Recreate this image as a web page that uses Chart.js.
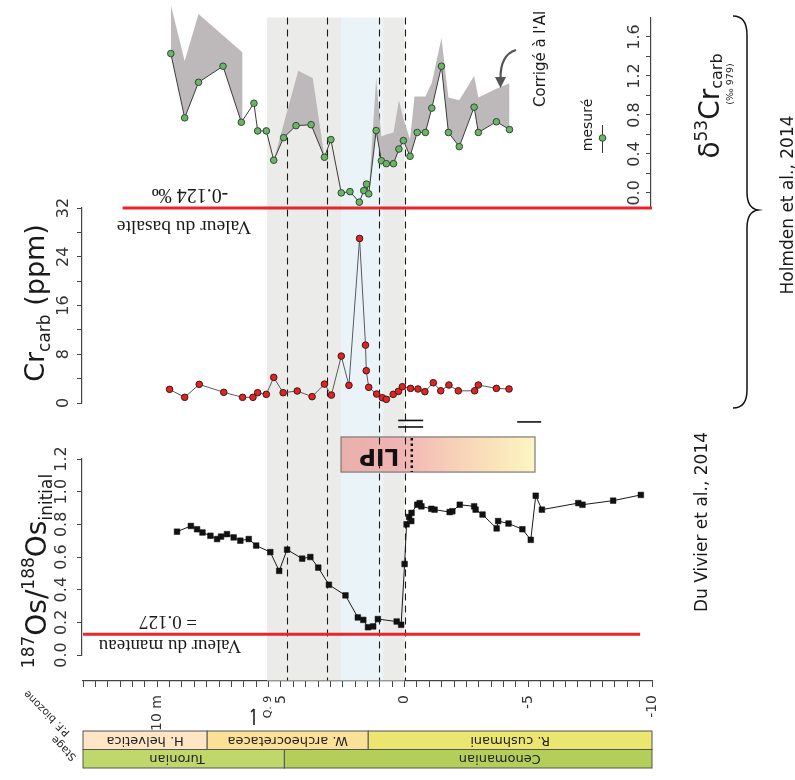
<!DOCTYPE html>
<html><head><meta charset="utf-8">
<script src="https://cdn.jsdelivr.net/npm/chart.js@4.4.1/dist/chart.umd.min.js"></script>
<style>html,body{margin:0;padding:0;background:#fff;}canvas{display:block;}</style>
</head><body>
<canvas id="c" width="795" height="780"></canvas>
<script>
// ---------- DATA ----------
const osDepth = [9.20,8.64,8.39,8.17,7.85,7.58,7.42,7.18,6.91,6.64,6.30,6.00,5.43,5.07,4.75,4.14,3.81,3.49,3.06,2.39,1.89,1.67,1.48,1.27,1.08,0.32,0.14,0.00,-0.08,-0.18,-0.27,-0.28,-0.51,-0.61,-0.68,-1.08,-1.21,-1.82,-1.93,-2.23,-2.81,-2.87,-3.15,-3.72,-3.78,-4.20,-4.76,-5.10,-5.30,-5.55,-7.02,-7.19,-8.43,-9.55];
const osRatio = [0.755,0.79,0.77,0.75,0.73,0.71,0.725,0.74,0.72,0.70,0.71,0.67,0.63,0.515,0.645,0.59,0.60,0.535,0.43,0.365,0.23,0.215,0.17,0.175,0.22,0.205,0.185,0.557,0.80,0.845,0.82,0.87,0.92,0.93,0.91,0.895,0.89,0.875,0.88,0.92,0.91,0.89,0.86,0.775,0.82,0.805,0.77,0.705,0.975,0.89,0.93,0.92,0.945,0.98];

const crDepth = [9.50,8.89,8.30,7.31,6.55,6.13,5.94,5.59,5.29,4.91,4.34,3.74,3.24,2.96,2.56,2.25,1.82,1.58,1.55,1.45,1.13,0.90,0.74,0.46,0.25,0.09,-0.24,-0.54,-0.82,-1.16,-1.46,-1.79,-2.17,-2.83,-2.98,-3.71,-4.22];
const crPpm = [2.24,0.93,3.06,1.75,0.93,0.93,1.69,1.42,4.2,1.69,1.97,1.04,3.1,1.3,7.7,2.9,27.0,9.5,5.3,2.57,1.47,0.87,0.6,1.42,1.9,2.67,2.4,2.3,1.86,3.33,2.0,2.95,2.0,2.0,2.95,2.4,2.3];

const d53Depth = [9.45,8.89,8.33,7.34,6.60,6.09,5.94,5.59,5.29,4.89,4.39,3.78,3.24,2.98,2.56,2.21,1.83,1.65,1.54,1.45,1.15,0.94,0.74,0.45,0.23,0.05,-0.22,-0.51,-0.84,-1.10,-1.49,-1.77,-2.21,-2.81,-2.98,-3.71,-4.24];
const d53Measured = [1.43,0.77,1.135,1.30,0.725,0.92,0.636,0.636,0.335,0.567,0.69,0.70,0.366,0.547,0.0,0.013,-0.095,0.024,0.09,-0.01,0.64,0.33,0.30,0.30,0.45,0.537,0.376,0.62,0.62,0.87,1.30,0.62,0.475,0.88,0.62,0.73,0.65];

// Upper edge of the Al-corrected envelope (null = gap)
const d53CorrDepth = [9.45,8.89,8.33,6.55,6.55,6.0,5.29,4.30,3.71,3.24,2.0,1.45,1.15,0.94,0.74,0.45,0.23,0.05,-0.22,-0.40,-0.84,-1.10,-1.49,-1.77,-2.21,-2.81,-2.98,-3.71,-4.24,-4.24];
const d53CorrValue = [1.93,1.354,1.836,1.44,0.74,null,0.335,1.254,1.176,0.366,null,-0.01,1.18,0.58,0.60,0.62,0.95,0.76,0.55,0.99,0.99,1.13,1.59,0.98,0.95,1.20,0.98,1.07,1.125,0.65];

const mantleValue = 0.127;        // Valeur du manteau
const mantleSpan = [13, -9.52];
const basaltValue = -0.155;       // drawn position of "Valeur du basalte"
const basaltSpan = [11.4, -10];

const depthTickLabels = [10, 5, 0, -5, -10];
const osTicks = [0, 0.2, 0.4, 0.6, 0.8, 1.0, 1.2];
const crTicks = [0, 4, 8, 12, 16, 20, 24, 28, 32];
const crLabelled = [0, 8, 16, 24, 32];
const d53Ticks = [0, 0.2, 0.4, 0.6, 0.8, 1.0, 1.2, 1.4, 1.6];
const d53Labelled = [0, 0.4, 0.8, 1.2, 1.6];

const greyBands = [[5.56, 2.57], [0.87, 0.0]];
const blueBand = [2.57, 0.87];
const dashedDepths = [4.75, 3.13, 1.02, 0.0];

const biozoneNames = ['H. helvetica', 'W. archeocretacea', 'R. cushmani'];
const biozoneLimits = [13, 7.98, 1.47, -10];
const biozoneColors = ['#fde5c5', '#fbe197', '#ebe66f'];
const stageNames = ['Turonian', 'Cenomanian'];
const stageLimits = [13, 4.86, -10];
const stageLabelDepth = [9.2, -3.85];
const stageColors = ['#c0d76c', '#b4cf59'];

// ---------- CHART ----------
const F = 'DejaVu Sans';
const xy = (xs, ys) => xs.map((x, i) => ({x, y: ys[i]}));
const xTicks = [];
for (let k = -20; k <= 26; k++) xTicks.push(k / 2);

function place(s, l, t, r, b) {
  s.left = l; s.top = t; s.right = r; s.bottom = b;
  s.width = r - l; s.height = b - t;
  s._labelItems = null; s._gridLineItems = null;
  s.configure();
}
const layoutPlugin = {
  id: 'fixedLayout',
  afterLayout(chart) {
    const s = chart.scales;
    place(s.x, 83, 681, 652, 740);
    place(s.yOs, 30, 459, 82, 655);
    place(s.yCr, 30, 208, 82, 403);
    place(s.yD, 600, 17.5, 651, 208);
    chart.chartArea = {left: 0, top: 0, right: chart.width, bottom: chart.height, width: chart.width, height: chart.height};
  }
};

function rtext(ctx, txt, x, y, ang, font, align, base, color) {
  ctx.save(); ctx.translate(x, y); ctx.rotate(ang);
  ctx.font = font; ctx.textAlign = align || 'center'; ctx.textBaseline = base || 'middle';
  ctx.fillStyle = color || '#222'; ctx.fillText(txt, 0, 0); ctx.restore();
}
function rich(ctx, parts, cx, cy, ang, color) {
  ctx.save(); ctx.translate(cx, cy); ctx.rotate(ang);
  ctx.textBaseline = 'alphabetic'; ctx.textAlign = 'left'; ctx.fillStyle = color || '#222';
  let W = 0;
  parts.forEach(p => { ctx.font = p[1] + 'px ' + F; W += ctx.measureText(p[0]).width; });
  let x = -W / 2;
  parts.forEach(p => { ctx.font = p[1] + 'px ' + F; ctx.fillText(p[0], x, p[2]); x += ctx.measureText(p[0]).width; });
  ctx.restore();
}
const UP = -Math.PI / 2, FLIP = Math.PI, DIAG = -2.36;

const decoPlugin = {
  id: 'deco',
  beforeDatasetsDraw(chart) {
    const ctx = chart.ctx, sx = chart.scales.x, yOs = chart.scales.yOs, yD = chart.scales.yD;
    const top = yD.top, bot = sx.top - 0.5;
    ctx.save();
    ctx.fillStyle = '#ebebea';
    greyBands.forEach(b => {
      const a = sx.getPixelForValue(b[0]), c = sx.getPixelForValue(b[1]);
      ctx.fillRect(a, top, c - a, bot - top);
    });
    ctx.fillStyle = '#eaf4f8';
    { const a = sx.getPixelForValue(blueBand[0]), c = sx.getPixelForValue(blueBand[1]); ctx.fillRect(a, top, c - a, bot - top); }
    // LIP box
    const lx0 = sx.getPixelForValue(2.57), lx1 = sx.getPixelForValue(-5.27);
    const ly0 = yOs.getPixelForValue(1.335), ly1 = yOs.getPixelForValue(1.12);
    const g = ctx.createLinearGradient(lx0, 0, lx1, 0);
    g.addColorStop(0, '#e9b0aa'); g.addColorStop(0.3, '#f1b3b5'); g.addColorStop(0.55, '#f7cdb7');
    g.addColorStop(0.8, '#fae4ba'); g.addColorStop(1, '#fdf6c4');
    ctx.fillStyle = g; ctx.fillRect(lx0, ly0, lx1 - lx0, ly1 - ly0);
    ctx.strokeStyle = '#7a7a7a'; ctx.lineWidth = 1.2; ctx.strokeRect(lx0, ly0, lx1 - lx0, ly1 - ly0);
    rtext(ctx, 'LIP', sx.getPixelForValue(1.03), (ly0 + ly1) / 2, FLIP, 'bold 23px ' + F, 'center', 'middle', '#111');
    // dotted line in LIP box
    ctx.strokeStyle = '#111'; ctx.lineWidth = 2.5; ctx.setLineDash([2.5, 3]);
    const dx = sx.getPixelForValue(-0.29);
    ctx.beginPath(); ctx.moveTo(dx, ly0 + 1); ctx.lineTo(dx, ly1); ctx.stroke();
    // dashed verticals
    ctx.setLineDash([7, 5]); ctx.lineWidth = 1.1; ctx.strokeStyle = '#1a1a1a';
    dashedDepths.forEach(d => {
      const px = Math.round(sx.getPixelForValue(d)) + 0.5;
      ctx.beginPath(); ctx.moveTo(px, top); ctx.lineTo(px, bot); ctx.stroke();
    });
    ctx.setLineDash([]);
    // marks above LIP box
    ctx.lineWidth = 1.6; ctx.strokeStyle = '#111';
    [[0.26, -0.75, 1.436], [0.26, -0.75, 1.396], [-4.55, -5.52, 1.427]].forEach(m => {
      const y = yOs.getPixelForValue(m[2]);
      ctx.beginPath(); ctx.moveTo(sx.getPixelForValue(m[0]), y); ctx.lineTo(sx.getPixelForValue(m[1]), y); ctx.stroke();
    });
    ctx.restore();
  },
  afterDraw(chart) {
    const ctx = chart.ctx, sx = chart.scales.x;
    ctx.save();
    // axis titles
    rich(ctx, [['187', 17, -12], ['Os/', 28, 0], ['188', 17, -12], ['Os', 28, 0], ['initial', 17, 6]], 46, 571, UP, '#1a1a1a');
    rich(ctx, [['Cr', 27, 0], ['carb', 17, 6], [' (ppm)', 27, 0]], 44, 303, UP, '#1a1a1a');
    rich(ctx, [['δ', 28, 0], ['53', 17, -12], ['Cr', 28, 0], ['carb', 16, 3]], 719, 106, UP, '#1a1a1a');
    rtext(ctx, '(‰ 979)', 733, 84, UP, '9.5px ' + F, 'center', 'alphabetic', '#1a1a1a');
    // references
    rtext(ctx, 'Du Vivier et al., 2014', 707, 522, UP, '17px ' + F, 'center', 'alphabetic', '#1a1a1a');
    rtext(ctx, 'Holmden et al., 2014', 793, 205, UP, '17px ' + F, 'center', 'alphabetic', '#1a1a1a');
    // brace
    ctx.strokeStyle = '#111'; ctx.lineWidth = 1.5;
    ctx.beginPath();
    ctx.moveTo(733, 16);
    ctx.bezierCurveTo(742, 16, 747, 22, 747, 35);
    ctx.lineTo(747, 192);
    ctx.bezierCurveTo(747, 203, 751, 209, 758, 210);
    ctx.bezierCurveTo(751, 211, 747, 217, 747, 228);
    ctx.lineTo(747, 390);
    ctx.bezierCurveTo(747, 402, 742, 408, 733, 408);
    ctx.stroke();
    // legend "mesuré"
    rtext(ctx, 'mesuré', 592, 125, UP, '14px ' + F, 'center', 'alphabetic', '#1a1a1a');
    ctx.strokeStyle = '#333'; ctx.lineWidth = 1;
    ctx.beginPath(); ctx.moveTo(602.5, 125); ctx.lineTo(602.5, 153); ctx.stroke();
    ctx.beginPath(); ctx.arc(602.5, 138, 3.3, 0, 2 * Math.PI);
    ctx.fillStyle = '#6cb46a'; ctx.fill(); ctx.strokeStyle = '#2e4a2e'; ctx.stroke();
    // Corrigé à l'Al + arrow
    rtext(ctx, "Corrigé à l'Al", 545, 107, UP, '15px ' + F, 'left', 'alphabetic', '#1a1a1a');
    ctx.strokeStyle = '#555'; ctx.lineWidth = 2.2;
    ctx.beginPath(); ctx.moveTo(516, 50); ctx.quadraticCurveTo(500, 55, 500.5, 79); ctx.stroke();
    ctx.fillStyle = '#555';
    ctx.beginPath(); ctx.moveTo(495, 77); ctx.lineTo(506, 77); ctx.lineTo(500.5, 88); ctx.closePath(); ctx.fill();
    // upside-down serif annotations
    rtext(ctx, 'Valeur du manteau', 170, 645, FLIP, '19px "Liberation Serif"', 'center', 'middle', '#1a1a1a');
    rtext(ctx, '= 0.127', 168, 621, FLIP, '19px "Liberation Serif"', 'center', 'middle', '#1a1a1a');
    rtext(ctx, 'Valeur du basalte', 184, 226, FLIP, '19.5px "Liberation Serif"', 'center', 'middle', '#1a1a1a');
    rtext(ctx, '-0.124 ‰', 190, 194, FLIP, '20px "Liberation Serif"', 'center', 'middle', '#1a1a1a');
    // Q.9 marker
    ctx.strokeStyle = '#222'; ctx.lineWidth = 1.6;
    ctx.beginPath(); ctx.moveTo(254, 709); ctx.lineTo(254, 725); ctx.moveTo(254, 709); ctx.lineTo(251, 712); ctx.stroke();
    rtext(ctx, 'Q. 9', 268, 707, UP, '11px ' + F, 'center', 'middle', '#222');
    // stage / biozone bars
    const rows = [[731, 749.5, biozoneNames, biozoneLimits, biozoneColors, null], [749.5, 768, stageNames, stageLimits, stageColors, stageLabelDepth]];
    rows.forEach(r => {
      const [y0, y1, names, lim, cols, lab] = r;
      names.forEach((n, i) => {
        const a = sx.getPixelForValue(lim[i]), b = sx.getPixelForValue(lim[i + 1]);
        ctx.fillStyle = cols[i]; ctx.fillRect(a, y0, b - a, y1 - y0);
        ctx.strokeStyle = '#555'; ctx.lineWidth = 1; ctx.strokeRect(a, y0, b - a, y1 - y0);
        const cx = lab ? sx.getPixelForValue(lab[i]) : (a + b) / 2;
        rtext(ctx, n, cx, (y0 + y1) / 2, FLIP, '13px ' + F, 'center', 'middle', '#222');
      });
    });
    rtext(ctx, 'Stage', 64, 748, DIAG, '10.5px ' + F, 'center', 'middle', '#222');
    rtext(ctx, 'P.F. biozone', 47, 713, DIAG, '10.5px ' + F, 'center', 'middle', '#222');
    ctx.restore();
  }
};

const tickFont = {family: F, size: 16};
const axisBase = {
  type: 'linear', position: 'left',
  grid: {drawOnChartArea: false, drawTicks: true, tickLength: 5, color: '#444', lineWidth: 1},
  border: {color: '#444', width: 1.2},
  ticks: {autoSkip: false, minRotation: 90, maxRotation: 90, crossAlign: 'center', font: tickFont, color: '#333'}
};

new Chart(document.getElementById('c'), {
  type: 'line',
  data: {datasets: [
    {label: 'Corrigé à l\'Al', data: xy(d53CorrDepth, d53CorrValue), xAxisID: 'x', yAxisID: 'yD',
     borderColor: 'rgba(0,0,0,0)', borderWidth: 0, pointRadius: 0, backgroundColor: '#bdb9ba',
     fill: 1, spanGaps: false, order: 5, clip: false, tension: 0},
    {label: 'mesuré', data: xy(d53Depth, d53Measured), xAxisID: 'x', yAxisID: 'yD',
     borderColor: '#3a3a3a', borderWidth: 1, pointRadius: 3.3, pointBackgroundColor: '#6cb46a',
     pointBorderColor: '#2e4a2e', pointBorderWidth: 1, fill: false, order: 1, clip: false},
    {label: 'Cr carb', data: xy(crDepth, crPpm), xAxisID: 'x', yAxisID: 'yCr',
     borderColor: '#5a5a5a', borderWidth: 1, pointRadius: 3.3, pointBackgroundColor: '#e3231f',
     pointBorderColor: '#3a1a1a', pointBorderWidth: 1, fill: false, order: 1, clip: false},
    {label: 'Os', data: xy(osDepth, osRatio), xAxisID: 'x', yAxisID: 'yOs',
     borderColor: '#1a1a1a', borderWidth: 1, pointStyle: 'rect', pointRadius: 4, pointBackgroundColor: '#111',
     pointBorderColor: '#111', pointBorderWidth: 0.5, fill: false, order: 1, clip: false},
    {label: 'Valeur du manteau', data: mantleSpan.map(d => ({x: d, y: mantleValue})), xAxisID: 'x', yAxisID: 'yOs',
     borderColor: '#e5262b', borderWidth: 2.8, pointRadius: 0, fill: false, order: 2, clip: false},
    {label: 'Valeur du basalte', data: basaltSpan.map(d => ({x: d, y: basaltValue})), xAxisID: 'x', yAxisID: 'yD',
     borderColor: '#e5262b', borderWidth: 2.8, pointRadius: 0, fill: false, order: 2, clip: false}
  ]},
  options: {
    responsive: false, animation: false, events: [],
    layout: {padding: 0},
    plugins: {legend: {display: false}, tooltip: {enabled: false}, filler: {propagate: false}},
    scales: {
      x: {type: 'linear', position: 'bottom', reverse: true, min: -10, max: 13,
          afterBuildTicks: s => { s.ticks = xTicks.map(v => ({value: v})); },
          grid: {drawOnChartArea: false, drawTicks: true, tickLength: 6, color: '#444', lineWidth: 1},
          border: {color: '#444', width: 1.2},
          ticks: {autoSkip: false, minRotation: 90, maxRotation: 90, padding: 8, font: {family: F, size: 14}, color: '#333',
                  callback: v => depthTickLabels.includes(v) ? (v === 10 ? '10 m' : String(v)) : ''}},
      yOs: Object.assign({}, axisBase, {min: 0, max: 1.2,
          afterBuildTicks: s => { s.ticks = osTicks.map(v => ({value: v})); },
          ticks: Object.assign({}, axisBase.ticks, {padding: 2, callback: v => v.toFixed(1)})}),
      yCr: Object.assign({}, axisBase, {min: 0, max: 32,
          afterBuildTicks: s => { s.ticks = crTicks.map(v => ({value: v})); },
          ticks: Object.assign({}, axisBase.ticks, {padding: 3, callback: v => crLabelled.includes(v) ? String(v) : ''})}),
      yD: Object.assign({}, axisBase, {min: basaltValue, max: 1.8,
          afterBuildTicks: s => { s.ticks = d53Ticks.map(v => ({value: v})); },
          ticks: Object.assign({}, axisBase.ticks, {padding: -2, callback: v => d53Labelled.some(t => Math.abs(t - v) < 1e-6) ? v.toFixed(1) : ''})})
    }
  },
  plugins: [layoutPlugin, decoPlugin]
});
</script>
</body></html>
